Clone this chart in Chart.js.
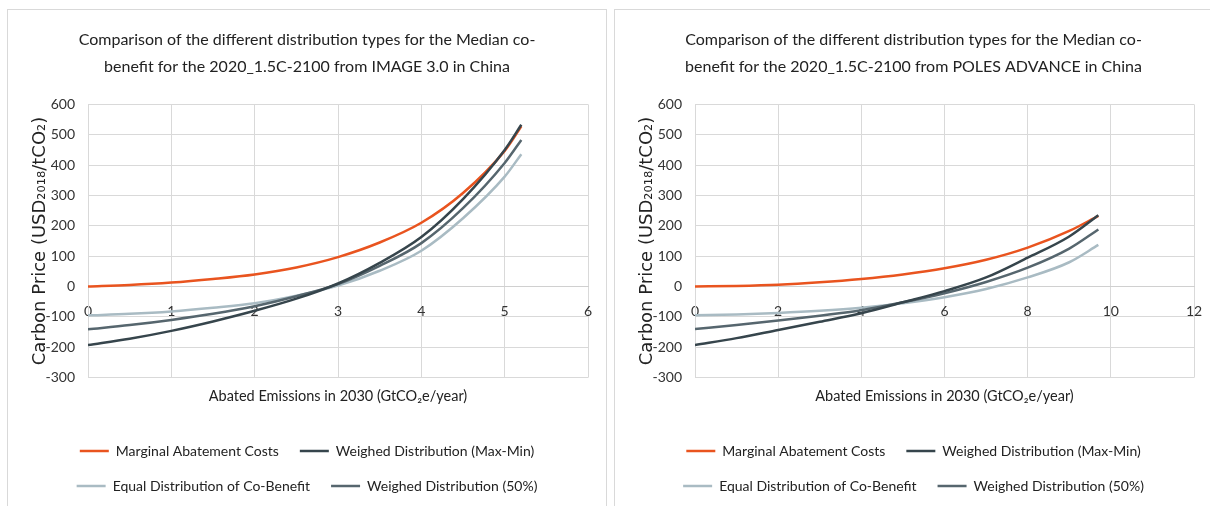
<!DOCTYPE html>
<html>
<head>
<meta charset="utf-8">
<script src="https://cdn.jsdelivr.net/npm/chart.js@4"></script>
<style>
    body { margin: 0; background: #fff; overflow: hidden; }
    .panel { position: absolute; top: 9px; width: 598px; height: 520px; border: 1px solid #D9D9D9; background: #fff; }
    .box { position: relative; width: 598px; height: 493px; }
</style>
</head>
<body>
<div class="panel" style="left: 7px;"><div class="box"><canvas id="chart_image"></canvas></div></div>
<div class="panel" style="left: 614px;"><div class="box"><canvas id="chart_poles"></canvas></div></div>
<script>
// IMAGE 3.0 (left)
const imageX = [0, 0.5, 1, 1.5, 2, 2.5, 3, 3.5, 4, 4.5, 5, 5.2];
const imageMac = [0, 5, 13, 25, 40, 63, 97, 145, 210, 308, 447, 528];
const imageMaxMin = [-193, -172, -146, -115, -80, -40, 10, 78, 163, 288, 450, 533];
const imageEqual = [-95, -90, -82, -70, -55, -30, 3, 52, 118, 225, 362, 436];
const imageHalf = [-141, -127, -110, -90, -65, -32, 8, 68, 143, 258, 407, 483];

// POLES ADVANCE (right)
const polesX = [0, 1, 2, 3, 4, 5, 6, 7, 8, 9, 9.7];
const polesMac = [0, 2, 6, 14, 25, 40, 60, 88, 128, 183, 233];
const polesMaxMin = [-193, -170, -143, -116, -88, -52, -15, 30, 95, 165, 235];
const polesEqual = [-95, -92, -87, -80, -70, -55, -35, -8, 30, 80, 137];
const polesHalf = [-140, -127, -112, -96, -78, -52, -22, 15, 62, 125, 188];

const seriesLabels = ['Marginal Abatement Costs', 'Weighed Distribution (Max-Min)', 'Equal Distribution of Co-Benefit', 'Weighed Distribution (50%)'];
const seriesColors = ['#E9541F', '#36454C', '#A9BBC3', '#56666E'];

const yTicks = [-300, -200, -100, 0, 100, 200, 300, 400, 500, 600];

const sans = "Lato, 'Liberation Sans', sans-serif";

function pairs(xs, ys) {
    return xs.map((x, i) => ({ x: x, y: ys[i] }));
}

function comparisonChart(canvasId, titleLines, xs, series, xMax, xStep, padRight) {
    return new Chart(document.getElementById(canvasId), {
        type: 'line',
        data: {
            datasets: series.map((ys, i) => ({
                label: seriesLabels[i],
                data: pairs(xs, ys),
                borderColor: seriesColors[i],
                backgroundColor: seriesColors[i],
                borderWidth: 2.5,
                pointRadius: 0,
                cubicInterpolationMode: 'monotone',
                order: [3, 0, 2, 1][i]
            }))
        },
        options: {
            responsive: true,
            maintainAspectRatio: false,
            animation: false,
            layout: { padding: { left: 18, right: padRight, top: 0, bottom: 0 } },
            scales: {
                x: {
                    type: 'linear',
                    position: { y: 0 },
                    min: 0,
                    max: xMax,
                    grid: { color: '#D9D9D9', drawTicks: true, tickLength: 15, tickColor: 'rgba(0,0,0,0)' },
                    border: { color: '#D0D0D0' },
                    ticks: {
                        stepSize: xStep,
                        padding: 2,
                        color: '#333',
                        font: { family: sans, size: 14 },
                        maxRotation: 0
                    }
                },
                xTitle: {
                    axis: 'x',
                    type: 'linear',
                    position: 'bottom',
                    min: 0,
                    max: 1,
                    grid: { display: false },
                    border: { display: false },
                    ticks: { display: false },
                    title: {
                        display: true,
                        text: 'Abated Emissions in 2030 (GtCO₂e/year)',
                        color: '#222',
                        font: { family: sans, size: 14.5 },
                        padding: { top: 2, bottom: 18 }
                    }
                },
                y: {
                    type: 'linear',
                    min: -300,
                    max: 600,
                    afterBuildTicks: scale => { scale.ticks = yTicks.map(v => ({ value: v })); },
                    afterFit: scale => { scale.width = 62; },
                    grid: { color: '#D9D9D9', drawTicks: false },
                    border: { color: '#D9D9D9' },
                    ticks: {
                        padding: 13,
                        color: '#333',
                        font: { family: sans, size: 14 }
                    },
                    title: {
                        display: true,
                        text: 'Carbon Price (USD₂₀₁₈/tCO₂)',
                        color: '#222',
                        font: { family: "'DejaVu Sans', sans-serif", size: 18 },
                        padding: { top: 4, bottom: 0 }
                    }
                }
            },
            plugins: {
                title: {
                    display: true,
                    text: titleLines,
                    color: '#222',
                    font: { family: sans, size: 16, weight: 'normal', lineHeight: 1.7 },
                    padding: { top: 16, bottom: 24 }
                },
                legend: {
                    display: true,
                    position: 'bottom',
                    labels: {
                        usePointStyle: true,
                        pointStyle: 'line',
                        pointStyleWidth: 29,
                        color: '#222',
                        padding: 21,
                        font: { family: sans, size: 14 },
                        sort: (a, b) => a.datasetIndex - b.datasetIndex
                    }
                },
                tooltip: { enabled: false }
            }
        }
    });
}

comparisonChart('chart_image',
    ['Comparison of the different distribution types for the Median co-', 'benefit for the 2020_1.5C-2100 from IMAGE 3.0 in China'],
    imageX, [imageMac, imageMaxMin, imageEqual, imageHalf], 6, 1, 18);

comparisonChart('chart_poles',
    ['Comparison of the different distribution types for the Median co-', 'benefit for the 2020_1.5C-2100 from POLES ADVANCE in China'],
    polesX, [polesMac, polesMaxMin, polesEqual, polesHalf], 12, 2, 19);
</script>
</body>
</html>
